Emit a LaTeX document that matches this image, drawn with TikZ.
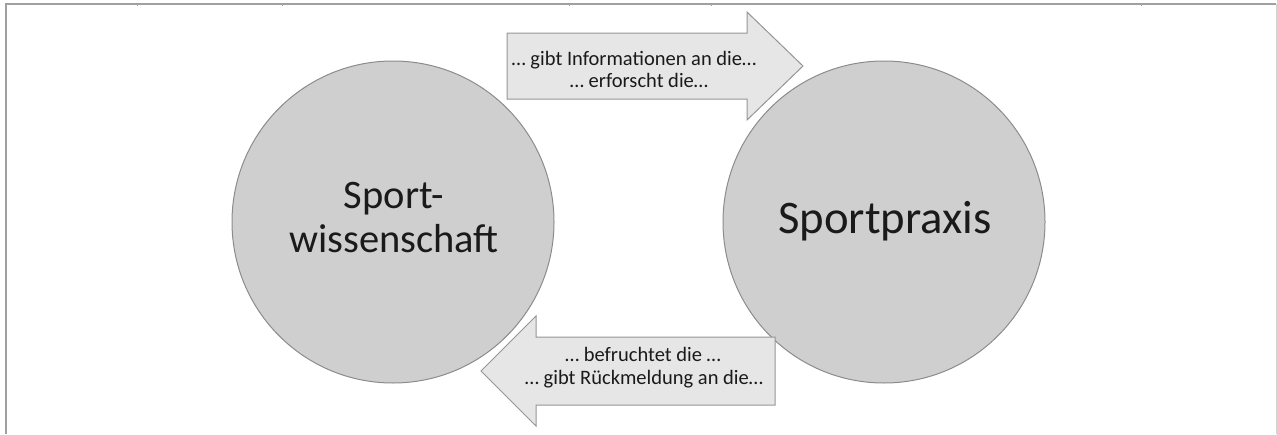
\documentclass[tikz,border=0pt]{standalone}
\usepackage{fontspec}
\setmainfont{Carlito}
\definecolor{ballfill}{HTML}{CFCFCF}
\definecolor{balledge}{HTML}{8C8C8C}
\definecolor{arrowfill}{HTML}{E6E6E6}
\definecolor{arrowedge}{HTML}{959595}
\definecolor{frameline}{HTML}{A0A0A0}
\definecolor{framefaint}{HTML}{D4D4D4}
\definecolor{ink}{HTML}{1A1A1A}
\tikzset{
  ball/.style={circle, fill=ballfill, draw=balledge, line width=1pt,
               minimum size=322pt, inner sep=0pt},
  blockarrow/.style={fill=arrowfill, draw=arrowedge, line width=1pt, line join=miter},
  arrowtext/.style={anchor=base, inner sep=0pt, text=ink,
                    font=\fontsize{20.5}{22}\selectfont},
  balltext/.style={anchor=base, inner sep=0pt, text=ink},
  frame/.style={draw=frameline, line width=1.2pt},
}
\begin{document}
\begin{tikzpicture}[x=1pt,y=-1pt]
\useasboundingbox (0,0) rectangle (1277,434);

% outer frame (open at the bottom)
\draw[frame] (6,434) -- (6,4) -- (1276,4);
\draw[draw=framefaint, line width=1pt] (1276,4) -- (1276,434);
\foreach \tx in {137,282,569,711,1141}
  \draw[draw=frameline, line width=0.8pt] (\tx,4) -- (\tx,6);

% the two fields
\node[ball] (sw) at (393,222) {};
\node[ball] (sp) at (884,222) {};

% block arrow: science -> practice
\draw[blockarrow] (507,33) -- (747,33) -- (747,12) -- (803,66)
  -- (747,120) -- (747,99) -- (507,99) -- cycle;
% block arrow: practice -> science
\draw[blockarrow] (775,337) -- (536,337) -- (536,316) -- (481,371)
  -- (536,426) -- (536,405) -- (775,405) -- cycle;

% labels of the fields
\node[balltext, font=\fontsize{40.5}{44}\selectfont] (swa) at (394,208) {Sport-};
\node[balltext, font=\fontsize{40.5}{44}\selectfont] (swb) at (394,252) {wissenschaft};
\node[balltext, font=\fontsize{46.7}{50}\selectfont] (spa) at (885,233) {Sportpraxis};

% labels of the arrows
\node[arrowtext] (ta) at (634,65) {… gibt Informationen an die…};
\node[arrowtext] (tb) at (639,87) {… erforscht die…};
\node[arrowtext] (ba) at (643,361) {… befruchtet die …};
\node[arrowtext] (bb) at (644,384) {… gibt Rückmeldung an die…};
\end{tikzpicture}
\end{document}
